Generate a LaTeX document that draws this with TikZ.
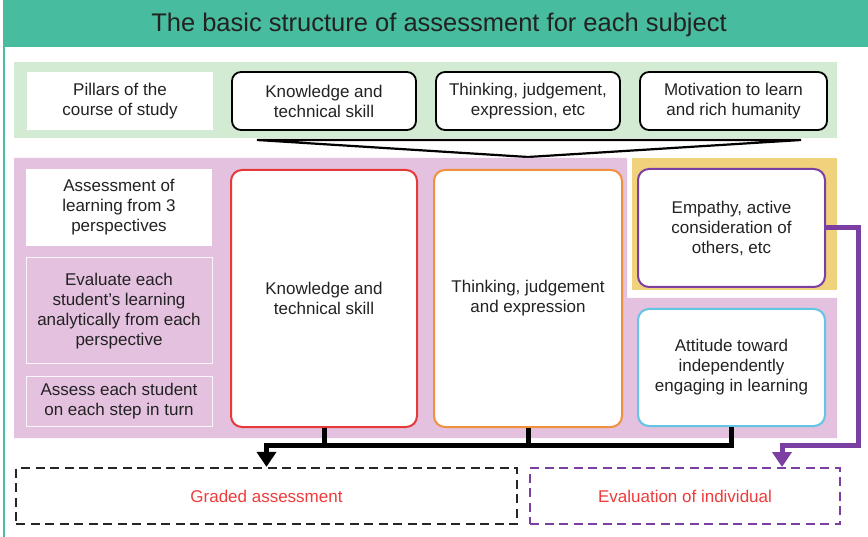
\documentclass[tikz,border=0pt]{standalone}
\usepackage{fontspec}
\setmainfont{Liberation Sans}
\usetikzlibrary{arrows.meta}
\definecolor{teal1}{HTML}{48BC9F}
\definecolor{green1}{HTML}{D4EBD3}
\definecolor{pink1}{HTML}{E4C1DF}
\definecolor{yellow1}{HTML}{F0D27C}
\definecolor{red1}{HTML}{E53A3A}
\definecolor{orange1}{HTML}{F0903C}
\definecolor{purple1}{HTML}{7B3FA3}
\definecolor{cyan1}{HTML}{63C4E4}
\definecolor{txtred}{HTML}{EE3B3B}
\definecolor{txt}{HTML}{222222}
\tikzset{
  txtstyle/.style={font=\fontsize{17}{20}\selectfont, text=txt, align=center, inner sep=0pt},
  plain/.style={txtstyle, fill=white, draw=none},
  pillar/.style={txtstyle, fill=white, draw=black, line width=1.8pt, rounded corners=9pt, minimum height=58pt},
  persp/.style={txtstyle, fill=white, line width=2pt, rounded corners=11pt},
  pinkbox/.style={txtstyle, fill=pink1, draw=white!85!pink1, line width=1pt},
  dashbox/.style={font=\fontsize{17}{20}\selectfont, text=txtred, align=center, line width=2.2pt, dash pattern=on 9pt off 5.5pt, minimum height=56pt},
  blk/.style={line width=5pt, draw=black},
  prp/.style={line width=5pt, draw=purple1}
}
\begin{document}
\begin{tikzpicture}[x=1pt,y=-1pt]
\useasboundingbox (0,0) rectangle (868,537);
\fill[white] (0,0) rectangle (868,537);
% header
\fill[teal1] (3,0) rectangle (868,47);
\node[inner sep=0pt, font=\fontsize{25.5}{28}\selectfont, text=txt] (title) at (439,25) {The basic structure of assessment for each subject};
\draw[teal1, line width=1.5pt] (4,47) -- (4,537);
% green band
\fill[green1] (14,62) rectangle (837,138);
\node[plain, minimum width=186pt, minimum height=58pt] (pil) at (120,101) {Pillars of the\\course of study};
\node[pillar, minimum width=184pt] (k1) at (324,101) {Knowledge and\\technical skill};
\node[pillar, minimum width=184pt] (t1) at (528,101) {Thinking, judgement,\\expression, etc};
\node[pillar, minimum width=187pt] (m1) at (733.5,101) {Motivation to learn\\and rich humanity};
% chevron
\draw[black, line width=2.2pt, line join=miter] (257,140) -- (801,140) -- (528,157) -- cycle;
% pink area
\fill[pink1] (14,158) -- (627,158) -- (627,298) -- (837,298) -- (837,438) -- (14,438) -- cycle;
\fill[yellow1] (632,158) rectangle (837,290);
% left column
\node[plain, minimum width=186pt, minimum height=77pt] (asl) at (119,207.5) {Assessment of\\learning from 3\\perspectives};
\node[pinkbox, minimum width=186pt, minimum height=106pt] (eva) at (119,311) {Evaluate each\\student’s learning\\analytically from each\\perspective};
\node[pinkbox, minimum width=186pt, minimum height=49pt] (ase) at (119,401.5) {Assess each student\\on each step in turn};
% perspective boxes
\node[persp, draw=red1, minimum width=186pt, minimum height=257pt] (k2) at (324,298.5) {Knowledge and\\technical skill};
\node[persp, draw=orange1, minimum width=188pt, minimum height=257pt] (t2) at (528,298.5) {Thinking, judgement\\and expression};
\node[persp, draw=purple1, minimum width=187pt, minimum height=118pt] (em) at (731.5,228) {Empathy, active\\consideration of\\others, etc};
\node[persp, draw=cyan1, minimum width=187pt, minimum height=117pt] (at) at (731.5,367.5) {Attitude toward\\independently\\engaging in learning};
% bottom boxes
\node[dashbox, draw=black!85, minimum width=501pt] (gr) at (266.5,496) {Graded assessment};
\node[dashbox, draw=purple1, minimum width=310pt] (ev) at (685,496) {Evaluation of individual};
% black connectors
\coordinate (bus) at (265,445);
\draw[blk] (k2.south) -- (k2.south |- bus);
\draw[blk] (t2.south) -- (t2.south |- bus);
\draw[blk, -{Triangle[width=19pt,length=15pt]}] (at.south) -- (at.south |- bus) -- (gr.north |- bus) -- (gr.north);
% purple connector
\coordinate (pc) at (858,445);
\coordinate (pe) at (782,467);
\draw[prp, line join=miter, -{Triangle[width=19pt,length=15pt]}] (em.east) -- (em.east -| pc) -- (pc) -- (pc -| pe) -- (pe);
\end{tikzpicture}
\end{document}
